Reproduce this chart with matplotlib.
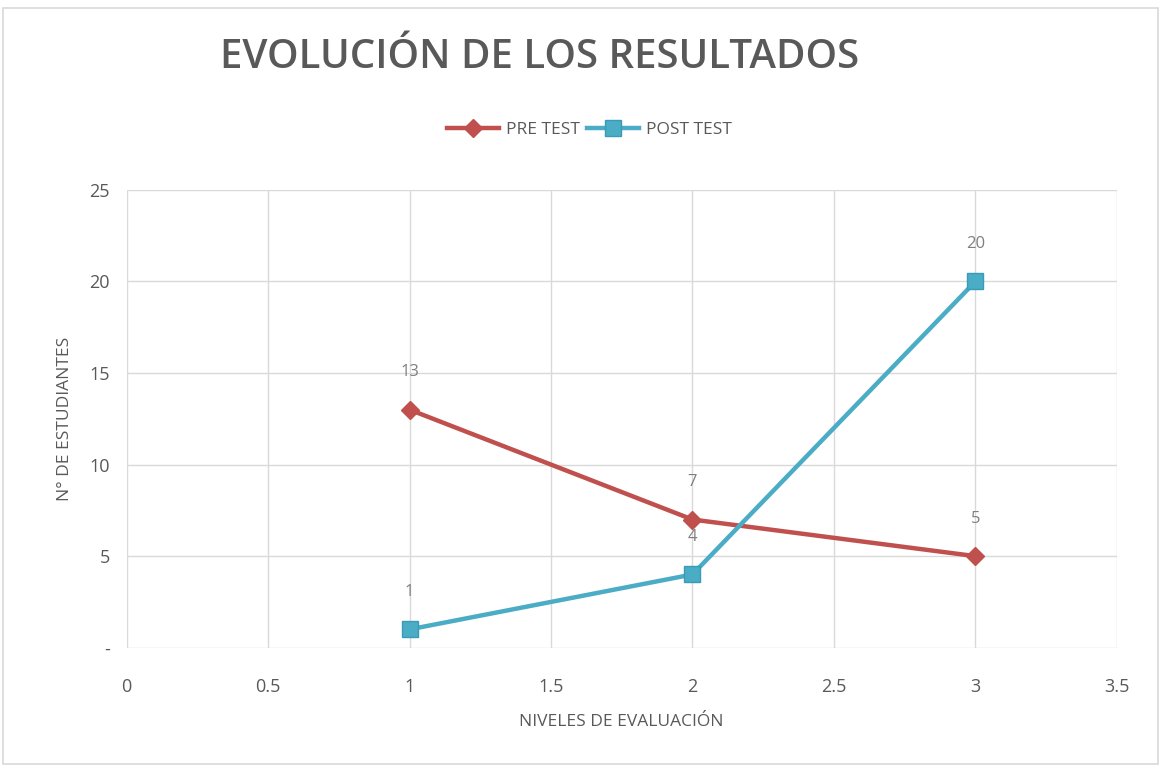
import matplotlib.pyplot as plt
from matplotlib.patches import Rectangle

# data
niveles = [1, 2, 3]
pre_test = [13, 7, 5]
post_test = [1, 4, 20]

x_ticks = [0, 0.5, 1, 1.5, 2, 2.5, 3, 3.5]
x_ticklabels = ['0', '0.5', '1', '1.5', '2', '2.5', '3', '3.5']
y_ticks = [0, 5, 10, 15, 20, 25]
y_ticklabels = ['-', '5', '10', '15', '20', '25']

plt.rcParams['font.family'] = ['Open Sans', 'DejaVu Sans']
gris = '#595959'

fig = plt.figure(figsize=(11.61, 7.72), dpi=100)
fig.patches.append(Rectangle((0.003, 0.01), 0.994, 0.98, transform=fig.transFigure,
                             fill=False, edgecolor='#d9d9d9', linewidth=1.2))
ax = fig.add_axes([0.109, 0.161, 0.853, 0.593])

ax.plot(niveles, pre_test, color='#c0504d', linewidth=3.2, marker='D', markersize=9,
        label='PRE TEST', zorder=3)
ax.plot(niveles, post_test, color='#4bacc6', linewidth=3.2, marker='s', markersize=11,
        markeredgecolor='#3a9bb5', label='POST TEST', zorder=3)

for x, y in zip(niveles, pre_test):
    ax.annotate(str(y), (x, y), xytext=(0, 27), textcoords='offset points',
                ha='center', va='center', fontsize=12, color='#7f7f7f')
for x, y in zip(niveles, post_test):
    ax.annotate(str(y), (x, y), xytext=(0, 27), textcoords='offset points',
                ha='center', va='center', fontsize=12, color='#7f7f7f')

ax.set_xlim(0, 3.5)
ax.set_ylim(0, 25)
ax.set_xticks(x_ticks)
ax.set_xticklabels(x_ticklabels)
ax.set_yticks(y_ticks)
ax.set_yticklabels(y_ticklabels)
ax.tick_params(axis='x', length=0, pad=22, labelsize=13, labelcolor=gris)
ax.tick_params(axis='y', length=0, pad=12, labelsize=13, labelcolor=gris)
ax.grid(True, color='#d9d9d9', linewidth=1)
ax.set_axisbelow(True)
for s in ax.spines.values():
    s.set_visible(False)

ax.set_xlabel('NIVELES DE EVALUACIÓN', fontsize=12.5, color=gris, labelpad=13)
ax.set_ylabel('N° DE ESTUDIANTES', fontsize=12.5, color=gris, labelpad=12)

fig.text(0.465, 0.925, 'EVOLUCIÓN DE LOS RESULTADOS', ha='center', va='center',
         fontsize=29, fontweight='semibold', color=gris)
fig.legend(loc='center', bbox_to_anchor=(0.508, 0.832), ncol=2, frameon=False,
           fontsize=12.5, labelcolor=gris, handlelength=3, columnspacing=0.4,
           handletextpad=0.4)

fig.savefig('out.png', dpi=100)
